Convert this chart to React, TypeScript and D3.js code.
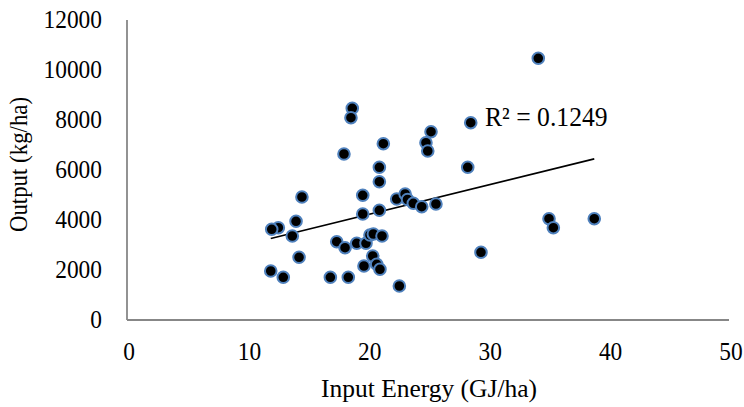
import React from "react";
import * as d3 from "d3";

const inputEnergy: number[] = [
  18.71, 18.6, 21.29, 18.02, 20.96, 20.96, 14.53, 19.58, 22.4, 23.1, 23.3,
  23.78, 20.96, 19.58, 14.04, 12.57, 12.02, 13.73, 17.42, 18.11, 19.08, 19.85,
  20.18, 20.46, 21.18, 14.29, 20.41, 19.68, 20.74, 21.01, 11.94, 12.98, 16.89,
  18.38, 22.62, 34.16, 28.55, 25.25, 24.83, 24.98, 28.3, 24.48, 25.66, 35.05,
  35.41, 38.81, 29.4,
];
const outputYield: number[] = [
  8468, 8092, 7052, 6640, 6108, 5532, 4920, 4988, 4840, 5040, 4820, 4668, 4388,
  4240, 3948, 3692, 3628, 3360, 3132, 2892, 3068, 3068, 3400, 3440, 3360, 2508,
  2560, 2160, 2228, 2028, 1960, 1708, 1708, 1708, 1360, 10468, 7892, 7532, 7092,
  6760, 6108, 4532, 4640, 4052, 3692, 4052, 2708,
];
const xTicks: number[] = [0, 10, 20, 30, 40, 50];
const yTicks: number[] = [0, 2000, 4000, 6000, 8000, 10000, 12000];
const xTitle = "Input Energy (GJ/ha)";
const yTitle = "Output (kg/ha)";
const r2Label = "R² = 0.1249";

const FONT = "'Liberation Serif', 'Times New Roman', serif";

export default function App() {
  const x = d3.scaleLinear().domain([0, 50]).range([127, 729]);
  const y = d3.scaleLinear().domain([0, 12000]).range([320, 20]);

  const pts = inputEnergy.map((v, i) => [v, outputYield[i]] as [number, number]);
  const mx = d3.mean(inputEnergy)!;
  const my = d3.mean(outputYield)!;
  let sxy = 0,
    sxx = 0;
  pts.forEach(([a, b]) => {
    sxy += (a - mx) * (b - my);
    sxx += (a - mx) * (a - mx);
  });
  const slope = sxy / sxx;
  const icpt = my - slope * mx;
  const [xmin, xmax] = d3.extent(inputEnergy) as [number, number];
  const line = d3.line<number>()
    .x((d) => x(d))
    .y((d) => y(icpt + slope * d));

  return (
    <svg
      width={744}
      height={407}
      style={{ position: "absolute", left: 0, top: 0, background: "#fff" }}
      fontFamily={FONT}
    >
      <rect width={744} height={407} fill="#fff" />
      {/* axes */}
      <line x1={x(0)} x2={x(0)} y1={y(12000)} y2={y(0)} stroke="#878787" strokeWidth={1.8} />
      <line x1={x(0)} x2={x(50)} y1={y(0)} y2={y(0)} stroke="#878787" strokeWidth={1.8} />
      {/* x tick labels */}
      {xTicks.map((t) => (
        <text
          key={"x" + t}
          transform={`translate(${x(t) + 2},360) scale(0.9,1)`}
          textAnchor="middle"
          fontSize={26}
          fill="#000"
        >
          {t}
        </text>
      ))}
      {/* y tick labels */}
      {yTicks.map((t) => (
        <text
          key={"y" + t}
          transform={`translate(102,${y(t) + 8}) scale(0.9,1)`}
          textAnchor="end"
          fontSize={26}
          fill="#000"
        >
          {t}
        </text>
      ))}
      {/* titles */}
      <text
        transform={`translate(429,397) scale(0.98,1)`}
        textAnchor="middle"
        fontSize={26}
        fill="#000"
      >
        {xTitle}
      </text>
      <text
        transform={`translate(27,164.5) rotate(-90) scale(0.88,1)`}
        textAnchor="middle"
        fontSize={26}
        fill="#000"
      >
        {yTitle}
      </text>
      {/* trend line */}
      <path d={line([xmin, xmax]) || ""} fill="none" stroke="#000" strokeWidth={1.6} />
      {/* points */}
      {pts.map(([a, b], i) => (
        <circle
          key={i}
          cx={x(a)}
          cy={y(b)}
          r={5.8}
          fill="#000"
          stroke="#4F81BD"
          strokeWidth={2}
        />
      ))}
      <text
        transform={`translate(485,126) scale(0.95,1)`}
        fontSize={27}
        fill="#000"
      >
        {r2Label}
      </text>
    </svg>
  );
}
